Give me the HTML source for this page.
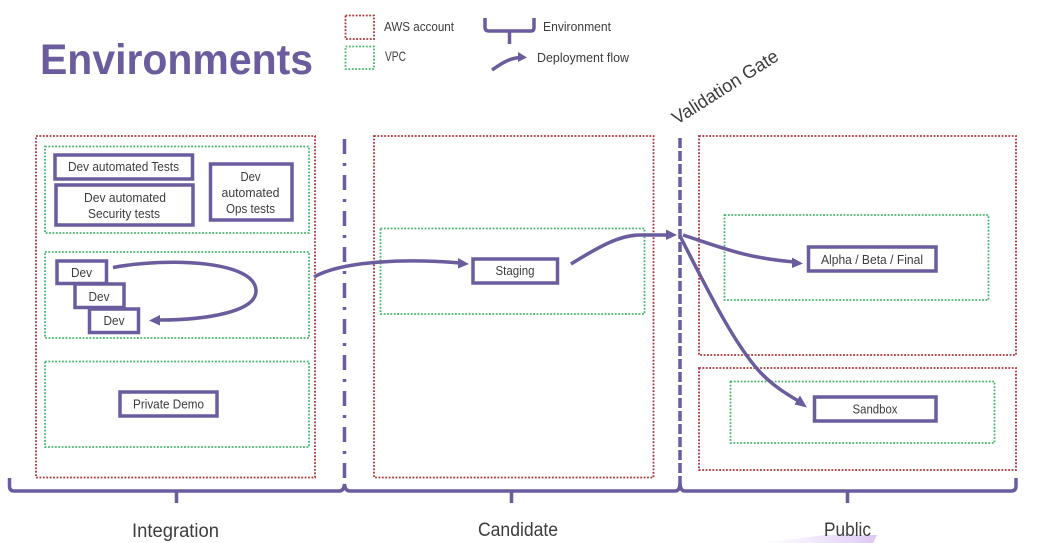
<!DOCTYPE html>
<html><head><meta charset="utf-8"><style>
html,body{margin:0;padding:0;background:#fff;overflow:hidden}
svg{display:block}
text{font-family:"Liberation Sans",sans-serif;fill:#3c3c3c}
.r{fill:none;stroke:#ab3138;stroke-width:1.800;stroke-dasharray:1.800 1.600}
.g{fill:none;stroke:#45b56d;stroke-width:1.800;stroke-dasharray:1.800 1.600}
.b{fill:#fff;stroke:#6b5b9d;stroke-width:3.500}
.l{fill:none;stroke:#6b5b9d;stroke-width:3.500}
.h{fill:#6b5b9d}
.t{font-size:13px}
</style></head><body>
<svg width="1052" height="543" viewBox="0 0 1052 543" xmlns="http://www.w3.org/2000/svg">
<defs>
<linearGradient id="s" x1="0" x2="1" y1="0" y2="0"><stop offset="0" stop-color="#e6d8f6" stop-opacity="0"/><stop offset="1" stop-color="#dcc8f4"/></linearGradient>
<filter id="bl" x="0" y="0" width="100%" height="100%"><feGaussianBlur stdDeviation="0.35"/></filter>
</defs>
<g filter="url(#bl)">
<rect width="1052" height="543" fill="#fff"/>
<polygon points="760,543 825,535 877,535 873,543" fill="url(#s)"/>

<text x="40" y="74" style="font-size:42.500px;font-weight:bold;fill:#6b5b9d" textLength="273" lengthAdjust="spacingAndGlyphs">Environments</text>

<!-- legend -->
<rect class="r" x="345.500" y="15.500" width="28.500" height="23.500"/>
<rect class="g" x="345.500" y="46.500" width="28.500" height="22.500"/>
<text class="t" x="384" y="31" textLength="70" lengthAdjust="spacingAndGlyphs">AWS account</text>
<text class="t" x="385" y="61" style="font-size:14px" textLength="21" lengthAdjust="spacingAndGlyphs">VPC</text>
<path class="l" d="M485 18 V27 Q485 31 489 31 H531 Q534 31 534 27 V18 M509.500 31 V44"/>
<text class="t" x="543" y="31" textLength="68" lengthAdjust="spacingAndGlyphs">Environment</text>
<path class="l" d="M492 70 C502 63,510 58,520 57.500"/>
<polygon class="h" points="518,52 527,57.500 518,62"/>
<text class="t" x="537" y="62" textLength="92" lengthAdjust="spacingAndGlyphs">Deployment flow</text>

<text transform="translate(677 125) rotate(-32.500)" style="font-size:18.500px" textLength="122" lengthAdjust="spacingAndGlyphs">Validation Gate</text>

<!-- AWS accounts -->
<rect class="r" x="36" y="136" width="279" height="341.500"/>
<rect class="r" x="374" y="136" width="279.500" height="341.500"/>
<rect class="r" x="699" y="136" width="317" height="219"/>
<rect class="r" x="699" y="368" width="317" height="102"/>

<!-- VPCs -->
<rect class="g" x="45" y="146.500" width="264" height="86.500"/>
<rect class="g" x="45" y="252" width="264" height="86"/>
<rect class="g" x="45" y="361.500" width="264" height="85.500"/>
<rect class="g" x="380.500" y="228.500" width="264" height="85.500"/>
<rect class="g" x="724.500" y="215" width="264" height="85"/>
<rect class="g" x="730.500" y="381.500" width="264" height="61.500"/>

<!-- separators -->
<path class="l" d="M344.500 139 V490" stroke-dasharray="15 9 3 9"/>
<path class="l" d="M680 138 V490" stroke-dasharray="10 3"/>

<!-- boxes -->
<rect class="b" x="55" y="155" width="137.500" height="24"/>
<text class="t" x="123.500" y="171" text-anchor="middle" textLength="111" lengthAdjust="spacingAndGlyphs">Dev automated Tests</text>
<rect class="b" x="56" y="185" width="137" height="40"/>
<text class="t" x="125" y="202" text-anchor="middle" textLength="82" lengthAdjust="spacingAndGlyphs">Dev automated</text>
<text class="t" x="124" y="218" text-anchor="middle" textLength="72" lengthAdjust="spacingAndGlyphs">Security tests</text>
<rect class="b" x="210.500" y="164" width="81.500" height="56"/>
<text class="t" x="250.500" y="181" text-anchor="middle" textLength="20" lengthAdjust="spacingAndGlyphs">Dev</text>
<text class="t" x="250.500" y="197" text-anchor="middle" textLength="58" lengthAdjust="spacingAndGlyphs">automated</text>
<text class="t" x="250.500" y="213" text-anchor="middle" textLength="49" lengthAdjust="spacingAndGlyphs">Ops tests</text>

<rect class="b" x="57" y="261" width="49.500" height="22.500"/>
<text class="t" x="81.500" y="277" text-anchor="middle" textLength="21" lengthAdjust="spacingAndGlyphs">Dev</text>
<rect class="b" x="75" y="284" width="49" height="23.500"/>
<text class="t" x="99" y="301" text-anchor="middle" textLength="21" lengthAdjust="spacingAndGlyphs">Dev</text>
<rect class="b" x="89.500" y="309" width="49" height="23.500"/>
<text class="t" x="114" y="325" text-anchor="middle" textLength="21" lengthAdjust="spacingAndGlyphs">Dev</text>

<rect class="b" x="120" y="392" width="97" height="24"/>
<text class="t" x="168.500" y="408.500" text-anchor="middle" textLength="71" lengthAdjust="spacingAndGlyphs">Private Demo</text>
<rect class="b" x="473" y="259" width="84.500" height="24"/>
<text class="t" x="515" y="275" text-anchor="middle" textLength="39" lengthAdjust="spacingAndGlyphs">Staging</text>
<rect class="b" x="808.500" y="247" width="127.500" height="24"/>
<text class="t" x="872" y="264" text-anchor="middle" textLength="102" lengthAdjust="spacingAndGlyphs">Alpha / Beta / Final</text>
<rect class="b" x="814.500" y="397" width="121.500" height="24"/>
<text class="t" x="875" y="413.500" text-anchor="middle" textLength="45" lengthAdjust="spacingAndGlyphs">Sandbox</text>

<!-- arrows -->
<path class="l" d="M113 267.500 C170 257,256 261,256 291 C256 312,205 320,160 320"/>
<polygon class="h" points="149,320.500 160,315 160,325.500"/>
<path class="l" d="M314 277 C340 262,400 258,460 263"/>
<polygon class="h" points="469,264 458,258 458,268.500"/>
<path class="l" d="M571 264 C600 246,620 235,640 235 L668 235"/>
<polygon class="h" points="677,235 666,229.500 666,240"/>
<path class="l" d="M683 235 C720 247,745 258,795 262"/>
<polygon class="h" points="803,263.500 792,257.500 792,268"/>
<path class="l" d="M680 236 C710 295,735 345,760 372 C772 385,785 393,800 402"/>
<polygon class="h" points="807,407.500 794.500,404.500 800,395.500"/>

<!-- env braces -->
<path class="l" d="M9.500 478 V486 Q9.500 491 14 491 H339 Q344 491 344.500 484 Q345 491 350 491 H675 Q679.500 491 680 484 Q680.500 491 685 491 H1011 Q1016 491 1016 486 V478"/>
<path class="l" d="M176.500 491 V503 M511.500 491 V503 M847.500 491 V503"/>

<text x="132" y="537" style="font-size:19px" textLength="87" lengthAdjust="spacingAndGlyphs">Integration</text>
<text x="478" y="536" style="font-size:19px" textLength="80" lengthAdjust="spacingAndGlyphs">Candidate</text>
<text x="824" y="536" style="font-size:19px" textLength="47" lengthAdjust="spacingAndGlyphs">Public</text>
</g>
</svg>
</body></html>
